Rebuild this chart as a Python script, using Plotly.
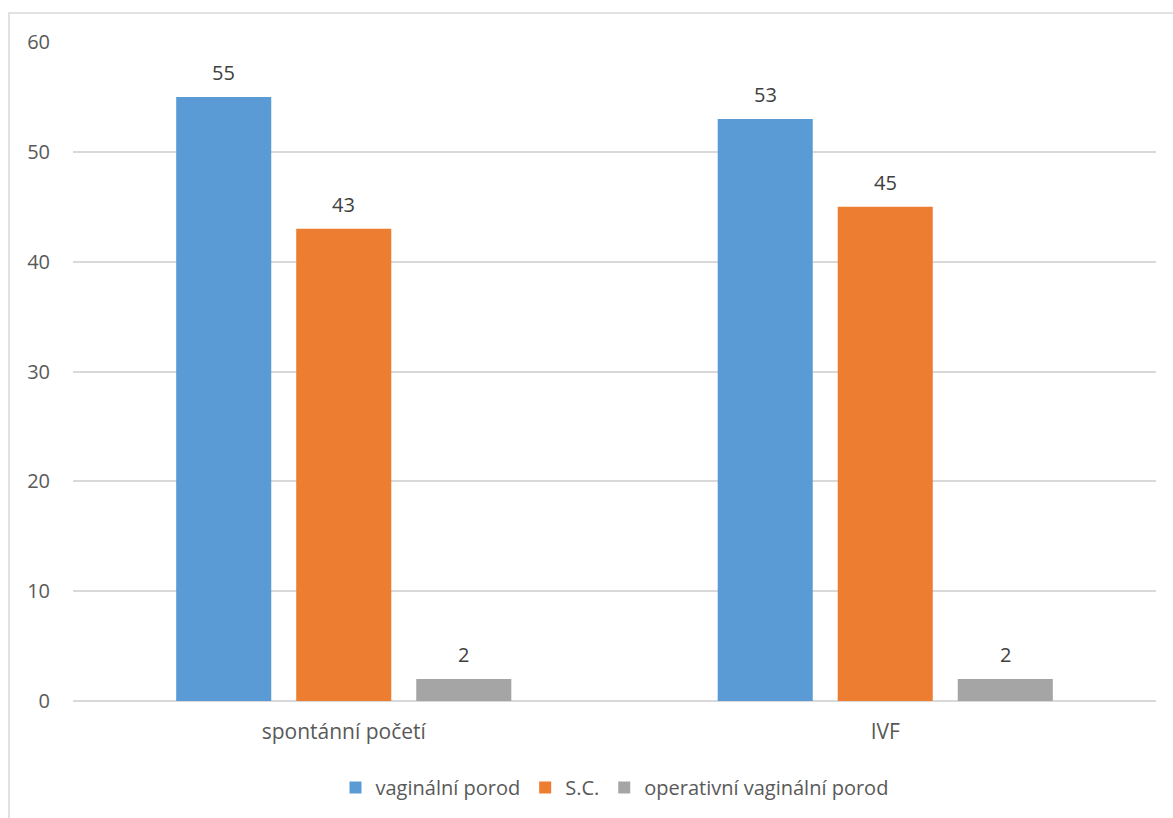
import plotly.graph_objects as go

categories = ["spontánní početí", "IVF"]
series_names = ["vaginální porod", "S.C.", "operativní vaginální porod"]
vaginal = [55, 53]
sc = [43, 45]
operative = [2, 2]
colors = ["#5b9bd5", "#ed7d31", "#a5a5a5"]

W, H = 1173, 818
ml, mr, mt, mb = 73, 17, 42, 116
pw, ph = W - ml - mr, H - mt - mb

BARGAP = 0.335
FONT = "'Open Sans', 'Noto Sans', sans-serif"

fig = go.Figure()
all_series = [vaginal, sc, operative]
for name, vals, col in zip(series_names, all_series, colors):
    fig.add_trace(go.Bar(
        x=categories, y=vals, name=name, marker_color=col,
        marker_line_width=0,
    ))

# value labels above each bar (slot offsets follow the grouped-bar layout)
slot = (1 - BARGAP) / len(all_series)
for k, vals in enumerate(all_series):
    for i, v in enumerate(vals):
        fig.add_annotation(
            x=i + (k - (len(all_series) - 1) / 2) * slot, y=v,
            xref="x", yref="y", text=str(v), showarrow=False,
            yanchor="bottom", yshift=9,
            font=dict(size=20, color="#404040", family=FONT),
        )

# outer chart frame
fig.add_shape(type="rect", xref="paper", yref="paper",
              x0=(9 - ml) / pw, x1=1.2,
              y0=-1.0, y1=(H - mb - 13) / ph,
              line=dict(color="#d9d9d9", width=1.5), layer="below")

fig.update_layout(
    width=W, height=H,
    margin=dict(l=ml, r=mr, t=mt, b=mb),
    paper_bgcolor="white", plot_bgcolor="white",
    font=dict(family=FONT, color="#595959", size=18),
    barmode="group", bargap=BARGAP, bargroupgap=0.208,
    showlegend=True,
    legend=dict(orientation="h", x=0.5, xanchor="center", y=-0.1, yanchor="top",
                font=dict(size=20, color="#595959", family=FONT), itemwidth=30),
    xaxis=dict(showgrid=False, showline=False, ticks="", ticklabelstandoff=16,
               tickfont=dict(size=21, family=FONT, color="#595959")),
    yaxis=dict(range=[0, 60], dtick=10, showgrid=True, gridcolor="#d9d9d9",
               gridwidth=1.5, zeroline=True, zerolinecolor="#d9d9d9",
               zerolinewidth=1.5, showline=False, ticks="", ticklabelstandoff=22,
               tickfont=dict(size=20, family=FONT, color="#595959")),
)

fig.write_html("out.html")
